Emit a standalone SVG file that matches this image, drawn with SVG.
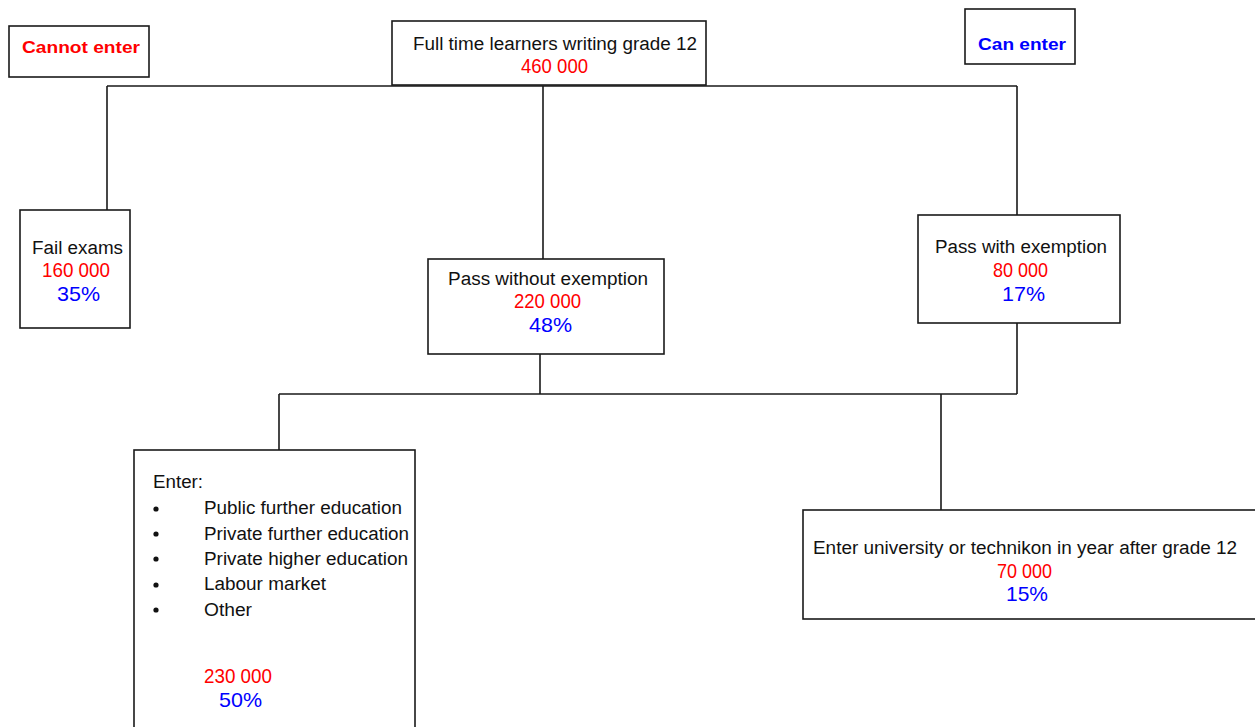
<svg xmlns="http://www.w3.org/2000/svg" width="1255" height="727" viewBox="0 0 1255 727">
<style>
.box{fill:#fff;stroke:#1a1a1a;stroke-width:1.6}
.ln{stroke:#1a1a1a;stroke-width:1.6;fill:none}
text{font-family:"Liberation Sans",Arial,sans-serif;font-size:18px;fill:#111}
.r{fill:#ff0000;font-size:21px}
.b{fill:#0000ff;font-size:21px}
.bold{font-weight:bold;font-size:17px}
</style>
<rect width="1255" height="727" fill="#fff"/>
<g id="connectors">
<path class="ln" d="M107,86 H1017 M107,86 V210 M543,86 V259 M1017,86 V215"/>
<path class="ln" d="M540,354 V394 M1017,323 V394 M279,394 H1017 M279,394 V450 M941,394 V510"/>
</g>
<g id="cannot-enter">
<rect class="box" x="9" y="26" width="140" height="51"/>
<text class="bold" fill="#ff0000" style="fill:#ff0000" x="22" y="53" textLength="118" lengthAdjust="spacingAndGlyphs">Cannot enter</text>
</g>
<g id="can-enter">
<rect class="box" x="965" y="9" width="110" height="55"/>
<text class="bold" style="fill:#0000ff" x="978" y="50" textLength="88" lengthAdjust="spacingAndGlyphs">Can enter</text>
</g>
<g id="top">
<rect class="box" x="392" y="21" width="314" height="64"/>
<text x="413" y="50" textLength="284" lengthAdjust="spacingAndGlyphs">Full time learners writing grade 12</text>
<text class="r" x="521" y="73" textLength="67" lengthAdjust="spacingAndGlyphs">460 000</text>
</g>
<g id="fail">
<rect class="box" x="20" y="210" width="110" height="118"/>
<text x="32" y="254" textLength="91" lengthAdjust="spacingAndGlyphs">Fail exams</text>
<text class="r" x="42" y="277" textLength="68" lengthAdjust="spacingAndGlyphs">160 000</text>
<text class="b" x="57" y="301" textLength="43" lengthAdjust="spacingAndGlyphs">35%</text>
</g>
<g id="pass-without">
<rect class="box" x="428" y="259" width="236" height="95"/>
<text x="448" y="285" textLength="200" lengthAdjust="spacingAndGlyphs">Pass without exemption</text>
<text class="r" x="514" y="308" textLength="67" lengthAdjust="spacingAndGlyphs">220 000</text>
<text class="b" x="529" y="332" textLength="43" lengthAdjust="spacingAndGlyphs">48%</text>
</g>
<g id="pass-with">
<rect class="box" x="918" y="215" width="202" height="108"/>
<text x="935" y="253" textLength="172" lengthAdjust="spacingAndGlyphs">Pass with exemption</text>
<text class="r" x="993" y="277" textLength="55" lengthAdjust="spacingAndGlyphs">80 000</text>
<text class="b" x="1002" y="301" textLength="43" lengthAdjust="spacingAndGlyphs">17%</text>
</g>
<g id="enter-other">
<rect class="box" x="134" y="450" width="281" height="290"/>
<text x="153" y="488" textLength="50" lengthAdjust="spacingAndGlyphs">Enter:</text>
<g fill="#111">
<circle cx="156" cy="509" r="2.6"/>
<circle cx="156" cy="534" r="2.6"/>
<circle cx="156" cy="559" r="2.6"/>
<circle cx="156" cy="585" r="2.6"/>
<circle cx="156" cy="610" r="2.6"/>
</g>
<text x="204" y="514" textLength="198" lengthAdjust="spacingAndGlyphs">Public further education</text>
<text x="204" y="540" textLength="205" lengthAdjust="spacingAndGlyphs">Private further education</text>
<text x="204" y="565" textLength="204" lengthAdjust="spacingAndGlyphs">Private higher education</text>
<text x="204" y="590" textLength="122" lengthAdjust="spacingAndGlyphs">Labour market</text>
<text x="204" y="616" textLength="48" lengthAdjust="spacingAndGlyphs">Other</text>
<text class="r" x="204" y="683" textLength="68" lengthAdjust="spacingAndGlyphs">230 000</text>
<text class="b" x="219" y="707" textLength="43" lengthAdjust="spacingAndGlyphs">50%</text>
</g>
<g id="university">
<rect class="box" x="803" y="510" width="460" height="109"/>
<text x="813" y="554" textLength="424" lengthAdjust="spacingAndGlyphs">Enter university or technikon in year after grade 12</text>
<text class="r" x="997" y="578" textLength="55" lengthAdjust="spacingAndGlyphs">70 000</text>
<text class="b" x="1006" y="601" textLength="42" lengthAdjust="spacingAndGlyphs">15%</text>
</g>
</svg>
